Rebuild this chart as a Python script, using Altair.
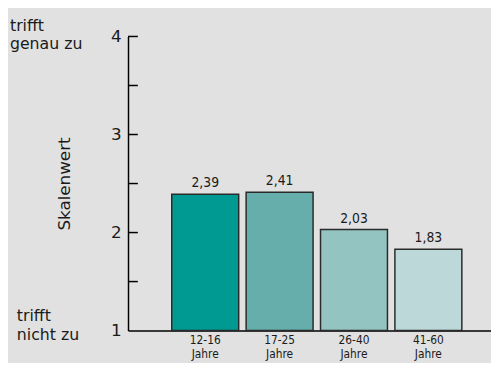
import altair as alt
import pandas as pd

groups = ["12-16", "17-25", "26-40", "41-60"]
values = [2.39, 2.41, 2.03, 1.83]
colors = ["#009a93", "#65aeab", "#94c4c1", "#bdd8d8"]
y_label_values = [1, 2, 3, 4]
tick_values = [1.5, 2, 2.5, 3, 3.5, 4]
top_label = "trifft\ngenau zu"
bottom_label = "trifft\nnicht zu"
y_top = 4
y_bottom = 1
y_title = "Skalenwert"
x_second_line = "Jahre"

wide_font = "DejaVu Sans"
narrow_font = "Liberation Sans Narrow, DejaVu Sans Condensed, Liberation Sans, sans-serif"
ink = "#1a1a1a"

df = pd.DataFrame({"group": groups, "value": values})
ticks_df = pd.DataFrame({"t": tick_values})
top_df = pd.DataFrame({"v": [y_top], "lbl": [top_label]})
bot_df = pd.DataFrame({"v": [y_bottom], "lbl": [bottom_label]})

yscale = alt.Scale(domain=[1, 4], nice=False, zero=False)
xscale = alt.Scale(domain=groups, paddingInner=0.1, paddingOuter=0.49, align=0.6)

base = alt.Chart(df)

bars = base.mark_bar(stroke="#2a2a2a", strokeWidth=1.5).encode(
    x=alt.X(
        "group:N",
        scale=xscale,
        sort=groups,
        axis=alt.Axis(
            title=None,
            labelAngle=0,
            ticks=False,
            domainColor="black",
            domainWidth=1.5,
            labelExpr=f"[datum.label, '{x_second_line}']",
            labelFont=narrow_font,
            labelFontSize=12,
            labelColor=ink,
            labelPadding=4,
            labelLineHeight=14,
        ),
    ),
    y=alt.Y(
        "value:Q",
        scale=yscale,
        axis=alt.Axis(
            title=y_title,
            values=y_label_values,
            format="d",
            ticks=False,
            grid=False,
            domainColor="black",
            domainWidth=1.5,
            labelFont=wide_font,
            labelFontSize=17,
            labelColor=ink,
            labelPadding=7,
            titleFont=wide_font,
            titleFontSize=17,
            titleFontWeight="normal",
            titleColor=ink,
            titlePadding=38,
        ),
    ),
    y2=alt.datum(1),
    color=alt.Color("group:N", scale=alt.Scale(domain=groups, range=colors), legend=None),
)

labels = base.transform_calculate(
    lbl="replace(format(datum.value, '.2f'), '.', ',')"
).mark_text(
    baseline="alphabetic", dy=-7, font=narrow_font, fontSize=14, color=ink
).encode(
    x=alt.X("group:N", scale=xscale, sort=groups),
    y=alt.Y("value:Q", scale=yscale),
    text="lbl:N",
)

tick_rules = alt.Chart(ticks_df).mark_rule(color="black", strokeWidth=1.5).encode(
    y=alt.Y("t:Q", scale=yscale),
    x=alt.value(0),
    x2=alt.value(10),
)

top_text = alt.Chart(top_df).mark_text(
    align="left", baseline="alphabetic", lineBreak="\n", lineHeight=19,
    font=wide_font, fontSize=16, color=ink, dy=-6,
).encode(y=alt.Y("v:Q", scale=yscale), x=alt.value(-120), text="lbl:N")

bot_text = alt.Chart(bot_df).mark_text(
    align="left", baseline="alphabetic", lineBreak="\n", lineHeight=20,
    font=wide_font, fontSize=16, color=ink, dy=-10,
).encode(y=alt.Y("v:Q", scale=yscale), x=alt.value(-113), text="lbl:N")

chart = alt.layer(bars, labels, tick_rules, top_text, bot_text).properties(
    width=369,
    height=299,
    background="#e1e1e1",
    padding={"left": 122, "top": 26, "right": 0, "bottom": 30},
    autosize=alt.AutoSizeParams(type="none"),
).configure_view(stroke=None)

chart.save("out.html", embed_options={"renderer": "svg", "actions": False})
